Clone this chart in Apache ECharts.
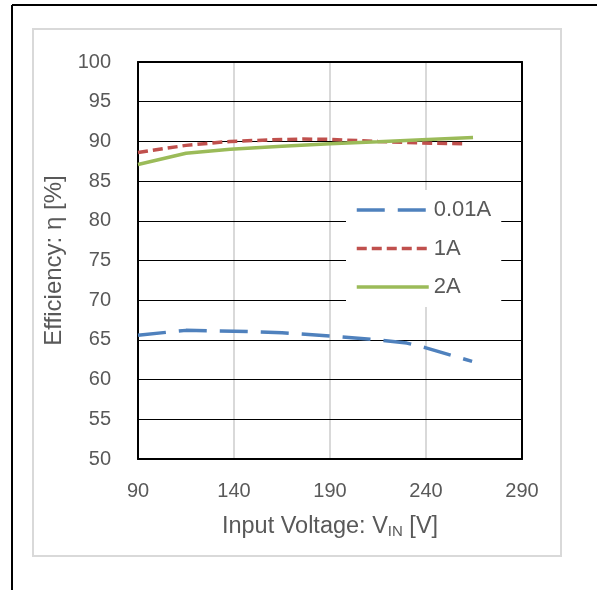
<!DOCTYPE html>
<html><head><meta charset="utf-8">
<script src="https://cdn.jsdelivr.net/npm/echarts@6/dist/echarts.min.js"></script>
<style>html,body{margin:0;padding:0;background:#fff}#c{width:597px;height:590px}</style>
</head><body><div id="c"></div>
<script>
const xTicks = [90, 140, 190, 240, 290];
const v001 = [90, 115, 140, 165, 190, 215, 230, 240, 264];
const eff001 = [65.6, 66.2, 66.1, 65.9, 65.5, 65.0, 64.6, 64.0, 62.3];
const v1 = [90, 115, 138, 160, 176, 190, 215, 238, 260];
const eff1 = [88.6, 89.5, 90.0, 90.2, 90.3, 90.25, 90.0, 89.8, 89.7];
const v2 = [90, 115, 138, 165, 190, 215, 238, 264.5];
const eff2 = [87.1, 88.5, 89.0, 89.4, 89.7, 89.95, 90.2, 90.5];
const seriesNames = ['0.01A', '1A', '2A'];

const FONT = 'Liberation Sans, Arial, sans-serif';
const TXT = '#595959';
const chart = echarts.init(document.getElementById('c'), null, {renderer: 'canvas'});
const zip = (a, b) => a.map((x, i) => [x, b[i]]);
chart.setOption({
  animation: false,
  backgroundColor: '#fff',
  graphic: [
    {type: 'line', shape: {x1: 12, y1: 5, x2: 597, y2: 5}, style: {stroke: '#000', lineWidth: 2}, z: 10},
    {type: 'line', shape: {x1: 12, y1: 5, x2: 12, y2: 590}, style: {stroke: '#000', lineWidth: 2}, z: 10},
    {type: 'rect', shape: {x: 33, y: 29, width: 528, height: 527}, style: {fill: 'none', stroke: '#d9d9d9', lineWidth: 2}, z: -1}
  ],
  grid: {left: 138, top: 62, right: 75, bottom: 131, containLabel: false},
  legend: {
    orient: 'vertical', left: 346, top: 190,
    padding: [9, 10, 9, 9],
    backgroundColor: '#fff',
    itemWidth: 72, itemHeight: 22, itemGap: 16.5,
    data: seriesNames,
    itemStyle: {opacity: 0},
    lineStyle: {width: 3.5},
    textStyle: {fontFamily: FONT, fontSize: 22, color: TXT},
    z: 20
  },
  xAxis: [{
    type: 'value', min: 90, max: 290, interval: 50, position: 'bottom',
    axisLine: {show: true, onZero: false, lineStyle: {color: '#000', width: 2}},
    axisTick: {show: false},
    axisLabel: {fontFamily: FONT, fontSize: 20, color: TXT, margin: 22},
    splitLine: {show: true, lineStyle: {color: '#d9d9d9', width: 2}},
    name: 'Input Voltage: V{sub|IN} [V]', nameLocation: 'middle', nameGap: 56,
    nameTextStyle: {fontFamily: FONT, fontSize: 23.5, color: TXT,
      rich: {sub: {fontFamily: FONT, fontSize: 15, color: TXT, verticalAlign: 'bottom', padding: [9, 0, 0, 0]}}},
    z: 1
  }, {
    type: 'value', min: 90, max: 290, interval: 50, position: 'top',
    axisLine: {show: true, onZero: false, lineStyle: {color: '#000', width: 2}},
    axisTick: {show: false}, axisLabel: {show: false}, splitLine: {show: false}, z: 3
  }],
  yAxis: [{
    type: 'value', min: 50, max: 100, interval: 5, position: 'left',
    axisLine: {show: true, onZero: false, lineStyle: {color: '#000', width: 2}},
    axisTick: {show: false},
    axisLabel: {fontFamily: FONT, fontSize: 20, color: TXT, margin: 27},
    splitLine: {show: true, lineStyle: {color: '#000', width: 1}},
    name: 'Efficiency: η [%]', nameLocation: 'middle', nameGap: 71,
    nameTextStyle: {fontFamily: FONT, fontSize: 24, color: TXT},
    z: 2
  }, {
    type: 'value', min: 50, max: 100, interval: 5, position: 'right',
    axisLine: {show: true, onZero: false, lineStyle: {color: '#000', width: 2}},
    axisTick: {show: false}, axisLabel: {show: false}, splitLine: {show: false}, z: 3
  }],
  series: [
    {name: seriesNames[0], type: 'line', data: zip(v001, eff001), showSymbol: false, symbol: 'none',
     lineStyle: {color: '#4f81bd', width: 3.5, type: [28, 13]}, itemStyle: {color: '#4f81bd'}, z: 5},
    {name: seriesNames[1], type: 'line', data: zip(v1, eff1), showSymbol: false, symbol: 'none',
     lineStyle: {color: '#c0504d', width: 3.5, type: [10, 5]}, itemStyle: {color: '#c0504d'}, z: 5},
    {name: seriesNames[2], type: 'line', data: zip(v2, eff2), showSymbol: false, symbol: 'none',
     lineStyle: {color: '#9bbb59', width: 3.5, type: 'solid'}, itemStyle: {color: '#9bbb59'}, z: 5}
  ]
});
</script></body></html>
